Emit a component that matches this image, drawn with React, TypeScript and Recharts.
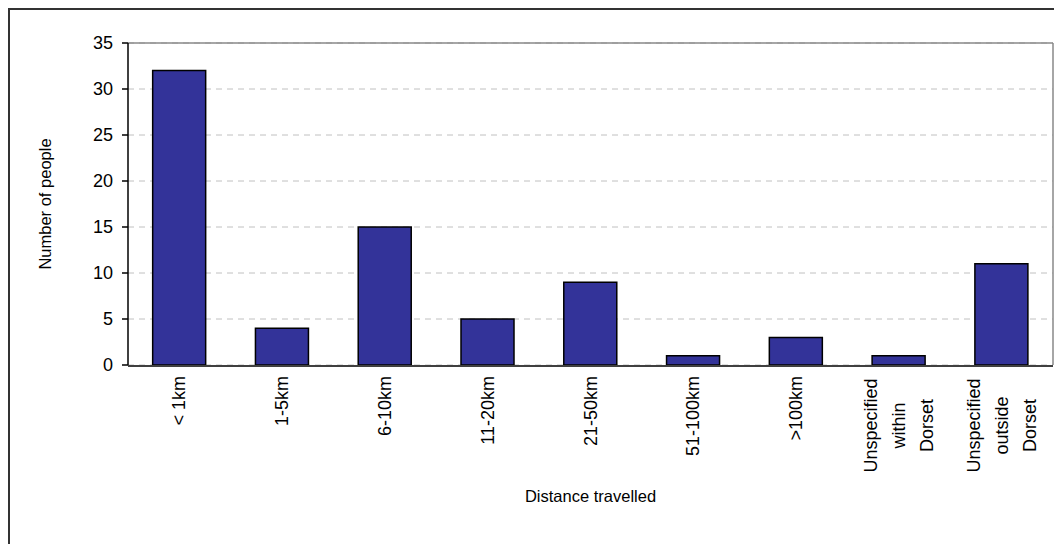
import { BarChart, Bar, XAxis, YAxis, CartesianGrid, ReferenceLine } from 'recharts';

// Distance travelled vs number of people
const categories = [
  '< 1km',
  '1-5km',
  '6-10km',
  '11-20km',
  '21-50km',
  '51-100km',
  '>100km',
  'Unspecified within Dorset',
  'Unspecified outside Dorset',
];
const people = [32, 4, 15, 5, 9, 1, 3, 1, 11];
const tickLabels = [
  ['< 1km'],
  ['1-5km'],
  ['6-10km'],
  ['11-20km'],
  ['21-50km'],
  ['51-100km'],
  ['>100km'],
  ['Unspecified', 'within', 'Dorset'],
  ['Unspecified', 'outside', 'Dorset'],
];
const yTicks = [0, 5, 10, 15, 20, 25, 30, 35];
const edgeTicks = [0, 1, 2, 3, 4, 5, 6, 7, 8, 9];

const FONT = 'Arial, "Liberation Sans", sans-serif';
const TICK_SIZE = 18;
const TITLE_SIZE = 16.5;

const data = categories.map((name, i) => ({ name, edge: i + 0.5, value: people[i] }));

// rotated category label, lines stacked side by side
function CategoryTick(props: any) {
  const { x, y, payload } = props;
  const idx = categories.indexOf(payload.value);
  const lines = tickLabels[idx] || [payload.value];
  const top = y + 11;

  if (lines.length === 1) {
    return (
      <text
        transform={`translate(${x},${top}) rotate(-90)`}
        textAnchor="end"
        dominantBaseline="central"
        fontFamily={FONT}
        fontSize={TICK_SIZE}
        fill="#000"
      >
        {lines[0]}
      </text>
    );
  }

  const longest = Math.max(...lines.map((l: string) => l.length));
  const half = (longest * TICK_SIZE * 0.5) / 2;
  return (
    <g transform={`translate(${x},${top}) rotate(-90)`}>
      {lines.map((line: string, i: number) => (
        <text
          key={i}
          x={-half}
          y={(i - (lines.length - 1) / 2) * 28}
          textAnchor="middle"
          dominantBaseline="central"
          fontFamily={FONT}
          fontSize={TICK_SIZE}
          fill="#000"
        >
          {line}
        </text>
      ))}
    </g>
  );
}

export default function App() {
  // frame runs off the window on the right and bottom, as in the original
  return (
    <div
      style={{
        width: 1044,
        height: 542,
        marginBottom: -8,
        borderTop: '2px solid #333',
        borderLeft: '2px solid #333',
        background: '#fff',
        overflow: 'hidden',
      }}
    >
      <BarChart
        width={1044}
        height={540}
        data={data}
        margin={{ top: 33, right: 1, left: 58, bottom: 183 }}
        barCategoryGap="24%"
      >
        <CartesianGrid
          horizontal={true}
          vertical={false}
          stroke="#c0c0c0"
          strokeDasharray="6 5"
        />
        {/* right edge of the plot frame */}
        <CartesianGrid
          horizontal={false}
          vertical={true}
          stroke="#888"
          strokeWidth={1.5}
          verticalCoordinatesGenerator={({ offset }: any) => [offset.left + offset.width]}
        />
        <XAxis
          dataKey="name"
          xAxisId="cat"
          height={1}
          axisLine={false}
          tickLine={false}
          tickSize={0}
          tickMargin={0}
          interval={0}
          tick={<CategoryTick />}
          label={{
            value: 'Distance travelled',
            position: 'bottom',
            offset: 124,
            fontFamily: FONT,
            fontSize: TITLE_SIZE,
            fill: '#000',
          }}
        />
        <XAxis
          xAxisId="edges"
          dataKey="edge"
          type="number"
          domain={[0, 9]}
          ticks={edgeTicks}
          allowDataOverflow
          height={1}
          tick={false}
          tickSize={6}
          axisLine={{ stroke: '#404040', strokeWidth: 2 }}
          tickLine={{ stroke: '#404040', strokeWidth: 1.5 }}
        />
        <YAxis
          domain={[0, 35]}
          ticks={yTicks}
          width={60}
          tickSize={6}
          tickMargin={9}
          axisLine={{ stroke: '#000', strokeWidth: 1.5 }}
          tickLine={{ stroke: '#000', strokeWidth: 1.5 }}
          tick={{ fontFamily: FONT, fontSize: TICK_SIZE, fill: '#000' }}
          label={{
            value: 'Number of people',
            angle: -90,
            position: 'center',
            dx: -53,
            fontFamily: FONT,
            fontSize: TITLE_SIZE,
            fill: '#000',
          }}
        />
        <ReferenceLine y={35} xAxisId="cat" stroke="#888" strokeWidth={1.5} />
        <Bar
          dataKey="value"
          xAxisId="cat"
          fill="#333399"
          stroke="#000"
          strokeWidth={1.5}
          isAnimationActive={false}
        />
      </BarChart>
    </div>
  );
}
